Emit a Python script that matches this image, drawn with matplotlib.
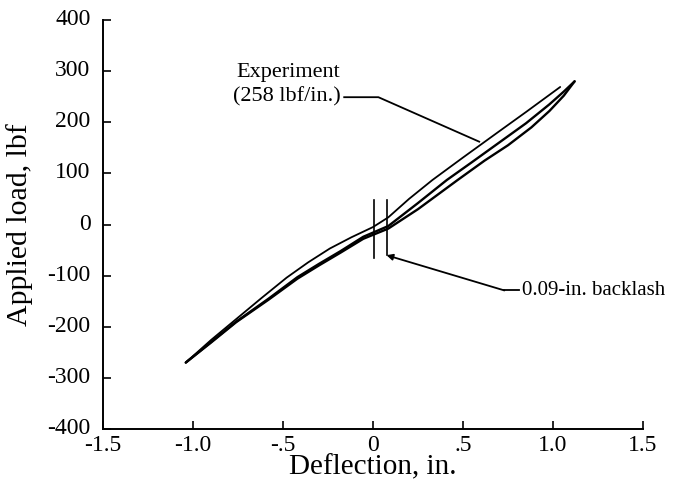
import matplotlib
matplotlib.use("Agg")
import matplotlib.pyplot as plt
import matplotlib.transforms as mtransforms

plt.rcParams['font.family'] = ['Liberation Serif', 'DejaVu Serif']

# Hysteresis loop branches (deflection in., load lbf)
upper_x = [-1.04, -0.90, -0.76, -0.62, -0.48, -0.36, -0.24, -0.12, 0.0, 0.085, 0.20, 0.33, 0.50, 0.70, 0.85, 1.04]
upper_y = [-270, -226, -185, -144, -104, -74, -47, -25, -5, 14, 50, 87, 131, 182, 220, 269]

mid_x = [-1.04, -0.90, -0.76, -0.58, -0.42, -0.30, -0.18, -0.054, 0.085, 0.25, 0.41, 0.55, 0.70, 0.85, 0.98, 1.06, 1.12]
mid_y = [-270, -230, -190, -145, -103, -77, -52, -24, -3, 42, 87, 122, 160, 198, 235, 260, 280]

low_x = [-1.04, -0.90, -0.76, -0.58, -0.42, -0.30, -0.18, -0.054, 0.085, 0.25, 0.47, 0.62, 0.75, 0.88, 0.98, 1.06, 1.12]
low_y = [-270, -231, -191, -147, -106, -80, -55, -28, -8, 30, 87, 125, 155, 190, 222, 252, 280]

# Backlash markers
backlash_x = [0.005, 0.075]
backlash_top = 48
backlash_bottom = [-66, -60]

x_ticks = [-1.5, -1.0, -0.5, 0, 0.5, 1.0, 1.5]
x_ticklabels = ['-1.5', '-1.0', '-.5', '0', '.5', '1.0', '1.5']
y_ticks = [-400, -300, -200, -100, 0, 100, 200, 300, 400]
y_ticklabels = ['-400', '-300', '-200', '-100', '0', '100', '200', '300', '400']

fig = plt.figure(figsize=(6.73, 4.87), dpi=100)
ax = fig.add_axes([103/673, 1-429/487, 540/673, 409/487])

ax.plot(upper_x, upper_y, color='black', lw=1.3, solid_capstyle='round')
ax.plot(mid_x, mid_y, color='black', lw=1.7, solid_capstyle='round')
ax.plot(low_x, low_y, color='black', lw=1.7, solid_capstyle='round')

for bx, bb in zip(backlash_x, backlash_bottom):
    ax.plot([bx, bx], [bb, backlash_top], color='black', lw=1.2)

ax.set_xlim(-1.5, 1.5)
ax.set_ylim(-400, 400)
ax.set_xticks(x_ticks)
ax.set_xticklabels(x_ticklabels)
ax.set_yticks(y_ticks)
ax.set_yticklabels(y_ticklabels)
ax.tick_params(direction='in', length=6, width=1.2, labelsize=17)
ax.tick_params(axis='x', pad=4)
ax.tick_params(axis='y', pad=9)
shift = mtransforms.ScaledTranslation(0, 3/100, fig.dpi_scale_trans)
for lab in ax.get_yticklabels():
    lab.set_transform(lab.get_transform() + shift)
for s in ['top', 'right']:
    ax.spines[s].set_visible(False)
for s in ['left', 'bottom']:
    ax.spines[s].set_linewidth(1.4)

ax.set_xlabel('Deflection, in.', fontsize=21)
ax.xaxis.set_label_coords(0.5, -0.093)
ax.xaxis.label.set_va('center')
ax.set_ylabel('Applied load, lbf', fontsize=21.5)
ax.yaxis.set_label_coords(-0.154, 0.5)
ax.yaxis.label.set_va('center')

# Annotations
ax.text(-0.76, 298, 'Experiment', fontsize=16, ha='left', va='center')
ax.text(-0.78, 249, '(258 lbf/in.)', fontsize=16, ha='left', va='center')
ax.plot([-0.16, 0.03, 0.59], [249, 249, 162], color='black', lw=1.3)

ax.text(0.83, -129, '0.09-in. backlash', fontsize=15, ha='left', va='center')
ax.annotate('', xy=(0.075, -60), xytext=(0.73, -129),
            arrowprops=dict(arrowstyle='-|>', color='black', lw=1.3,
                            mutation_scale=9, shrinkA=0, shrinkB=0))
ax.plot([0.73, 0.81], [-129, -129], color='black', lw=1.3)

fig.savefig('out.png', dpi=100)
